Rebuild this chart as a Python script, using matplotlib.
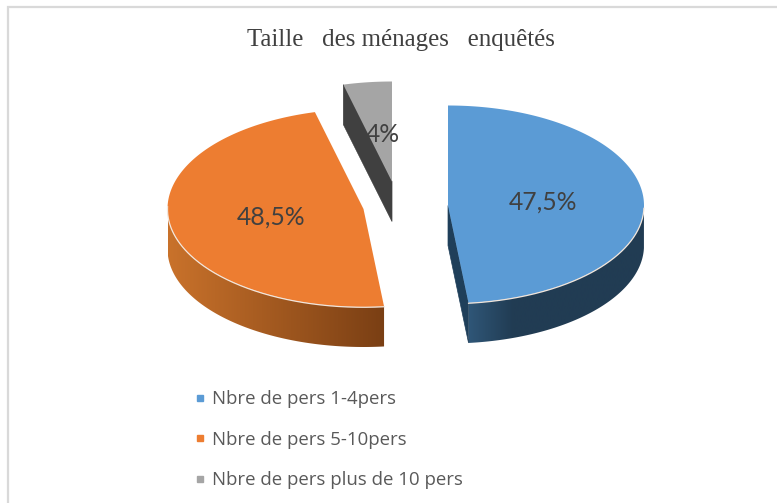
import numpy as np
import matplotlib
matplotlib.use("Agg")
import matplotlib.pyplot as plt
from matplotlib.lines import Line2D
from matplotlib.patches import Polygon
from matplotlib.colors import to_rgb

# --- data ---
categories = ["Nbre de pers 1-4pers", "Nbre de pers 5-10pers", "Nbre de pers plus de 10 pers"]
values = [47.5, 48.5, 4.0]
value_labels = ["47,5%", "48,5%", "4%"]
title = "Taille   des ménages   enquêtés"

# --- style ---
top_colors = ["#5b9bd5", "#ed7d31", "#a5a5a5"]
wall_from = ["#2f5677", "#c9722b", "#404040"]
wall_to = ["#213c53", "#7a3f14", "#404040"]
text_color = "#595959"
centers = [(448, 205.5), (363.5, 209), (392, 181.5)]   # exploded slice apexes (pixels)
label_pos = [(543, 202), (271, 217), (383, 135)]
RX, RY_BACK, RY_FRONT, DEPTH = 196, 100, 98, 40

fig = plt.figure(figsize=(7.77, 5.03), dpi=100)
ax = fig.add_axes([0, 0, 1, 1])
ax.axis("off")


def warp(t):
    return t + np.radians(3.0) * (1 - np.cos(t)) / 2


def rim(center, t):
    t = warp(np.asarray(t, dtype=float))
    c = np.cos(t)
    ry = np.where(c > 0, RY_BACK, RY_FRONT)
    return center[0] + RX * np.sin(t), center[1] - ry * c


def mix(a, b, f):
    a, b = np.array(to_rgb(a)), np.array(to_rgb(b))
    return a + (b - a) * f


angles = np.concatenate([[0], np.cumsum(values)]) / np.sum(values) * 2 * np.pi

# draw back to front: grey, orange, blue
for i in [2, 1, 0]:
    cen = centers[i]
    t0, t1 = angles[i], angles[i + 1]
    ts = np.linspace(t0, t1, 200)
    x, y = rim(cen, ts)

    # cut faces
    if i == 2:
        ax.fill([x[0], cen[0], cen[0], x[0]],
                [y[0], cen[1], cen[1] + DEPTH, y[0] + DEPTH],
                color=wall_from[i], lw=0.5, zorder=2)
    if i == 0:
        ax.fill([cen[0], x[-1], x[-1], cen[0]],
                [cen[1], y[-1], y[-1] + DEPTH, cen[1] + DEPTH],
                color="#1f3f5a", lw=0.5, zorder=2)

    # outer wall, as a horizontal gradient clipped to the rim band
    a0, a1 = max(t0, np.pi / 2), min(t1, 3 * np.pi / 2)
    if a1 > a0:
        tw = np.linspace(a0, a1, 150)
        wx, wy = rim(cen, tw)
        n = 256
        f = np.linspace(0, 1, n)
        if i == 0:
            f = np.clip(f / 0.25, 0, 1)
        grad = np.array([[mix(wall_from[i], wall_to[i], v) for v in f]])
        im = ax.imshow(grad, extent=(wx.min(), wx.max(), 503, 0), aspect="auto",
                       interpolation="bilinear", zorder=2)
        band = Polygon(np.c_[np.r_[wx, wx[::-1]], np.r_[wy, wy[::-1] + DEPTH]],
                       closed=True, transform=ax.transData, fc="none", ec="none")
        ax.add_patch(band)
        im.set_clip_path(band)
        ax.plot(wx, wy + 0.3, color="#f2e6dc", lw=0.9, zorder=3.5)

    # top face
    ax.fill(np.r_[cen[0], x], np.r_[cen[1], y], color=top_colors[i], lw=0, zorder=3)

    ax.text(*label_pos[i], value_labels[i], color="#404040", fontsize=17.8,
            family="Lato", ha="center", va="center", zorder=5)

# title
ax.text(401, 40, title, family="Liberation Serif", fontsize=17.9, color="#404040",
        ha="center", va="center")

# chart frame (top and left edges only are in the crop)
ax.plot([8, 8, 777], [503, 7, 7], color="#d9d9d9", lw=1.6, zorder=1, solid_joinstyle="miter")

ax.set_xlim(0, 777)
ax.set_ylim(503, 0)

# legend
handles = [Line2D([], [], ls="none", marker="s", ms=4.3, color=c) for c in top_colors]
leg = ax.legend(handles, categories, loc="upper left",
                bbox_to_anchor=(191 / 777, 1 - 390.5 / 503), bbox_transform=ax.transAxes,
                frameon=False, prop={"family": "Open Sans", "size": 13.4},
                labelcolor=text_color, labelspacing=1.2, handlelength=1.0,
                handletextpad=0.13, borderpad=0, borderaxespad=0)

fig.savefig("out.png", dpi=100)
